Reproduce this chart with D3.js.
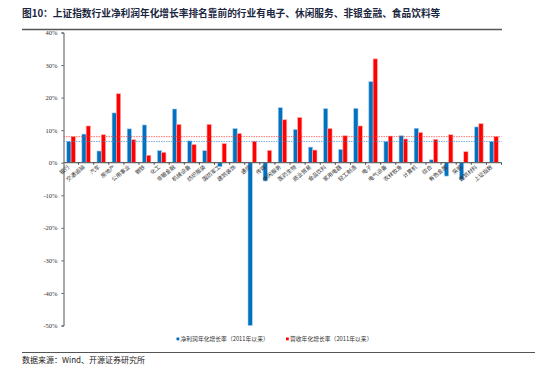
<!DOCTYPE html>
<html>
<head>
<meta charset="utf-8">
<script src="https://cdn.jsdelivr.net/npm/d3@7/dist/d3.min.js"></script>
<style>
  body { margin: 0; background: #fff; }
  svg { display: block; }
</style>
</head>
<body>
<script>
// industries, ranked as in the report
let categories = ["银行", "交通运输", "汽车", "房地产", "公用事业", "钢铁", "化工", "非银金融",
  "机械设备", "纺织服装", "国防军工", "建筑装饰", "通信", "传媒", "休闲服务", "医药生物",
  "商业贸易", "食品饮料", "家用电器", "轻工制造", "电子", "电气设备", "农林牧渔", "计算机",
  "综合", "有色金属", "采掘", "建筑材料", "上证指数"];

// 净利润年化增长率 (%)
let profitGrowth = [6.5, 8.8, 3.6, 15.3, 10.4, 11.6, 3.7, 16.5,
  6.7, 3.7, -1.2, 10.5, -50, -5.6, 16.9, 10.2,
  4.8, 16.6, 4.1, 16.7, 24.9, 6.5, 8.3, 10.6,
  0.9, -4.1, -5.2, 11.0, 6.5];

// 营收年化增长率 (%)
let revenueGrowth = [8.0, 11.3, 8.6, 21.2, 7.1, 2.3, 3.2, 11.8,
  5.6, 11.8, 5.9, 9.0, 6.6, 3.8, 13.2, 13.9,
  3.9, 10.5, 8.3, 11.3, 31.9, 8.2, 7.3, 9.3,
  7.2, 8.6, 3.4, 12.0, 8.0];

let yTicks = [40, 30, 20, 10, 0, -10, -20, -30, -40, -50];

let seriesNames = ["净利润年化增长率（2011年以来）", "营收年化增长率（2011年以来）"];
let seriesColors = ["#0070c0", "#ff0000"];
let glowColors = ["#a9cdea", "#ffb3b3"];

let svg = d3.select("body")
  .append("svg")
  .attr("width", 550)
  .attr("height", 375);

let cjk = "'Noto Sans CJK SC', 'Noto Sans', sans-serif";

// title
svg.append("text")
  .attr("x", 22)
  .attr("y", 17)
  .style("font-family", cjk)
  .style("font-size", "9.7px")
  .style("font-weight", "bold")
  .style("fill", "#1a2540")
  .text("图10：上证指数行业净利润年化增长率排名靠前的行业有电子、休闲服务、非银金融、食品饮料等");

svg.append("line")
  .attr("x1", 22).attr("x2", 502)
  .attr("y1", 29.5).attr("y2", 29.5)
  .style("stroke", "#555")
  .style("stroke-width", 1.5);

// scales
let x = d3.scaleBand()
  .domain(categories)
  .range([63.5, 501.5])
  .padding(0);

let xSub = d3.scaleBand()
  .domain([0, 1])
  .range([0, x.bandwidth()])
  .paddingInner(0)
  .paddingOuter(0.76);

let y = d3.scaleLinear()
  .domain([-50, 40])
  .range([325.5, 32.5]);

// y axis
let yAxis = svg.append("g")
  .attr("transform", "translate(63.5,0)")
  .call(d3.axisLeft(y).tickValues(yTicks).tickSize(2).tickPadding(4).tickFormat(d => d + "%"));
yAxis.select(".domain").style("stroke", "#555").style("stroke-width", 1);
yAxis.selectAll(".tick line").style("stroke", "#555");
yAxis.selectAll("text")
  .style("font-family", "'Liberation Serif', serif")
  .style("font-size", "6.5px")
  .style("fill", "#333");

// bars
let rows = categories.map((c, i) => ({ cat: c, vals: [profitGrowth[i], revenueGrowth[i]] }));

let groups = svg.append("g")
  .selectAll("g")
  .data(rows)
  .join("g")
  .attr("transform", d => `translate(${x(d.cat)},0)`);

groups.selectAll("rect")
  .data(d => d.vals.map((v, k) => ({ v, k })))
  .join("rect")
  .attr("x", d => xSub(d.k))
  .attr("width", xSub.bandwidth())
  .attr("y", d => y(Math.max(0, d.v)))
  .attr("height", d => Math.abs(y(d.v) - y(0)))
  .style("fill", d => seriesColors[d.k])
  .style("stroke", d => glowColors[d.k])
  .style("stroke-width", 0.6);

// reference lines at the index level
let refLines = [revenueGrowth[categories.length - 1], profitGrowth[categories.length - 1]];
svg.append("g")
  .selectAll("line")
  .data(refLines)
  .join("line")
  .attr("x1", 63.5).attr("x2", 501.5)
  .attr("y1", d => y(d)).attr("y2", d => y(d))
  .style("stroke", (d, i) => i === 0 ? "#ff3030" : "#3a8ad0")
  .style("stroke-width", 0.8)
  .style("stroke-dasharray", "1.5,1")
  .style("opacity", 0.85);

// x axis at zero
svg.append("line")
  .attr("x1", 63.5).attr("x2", 501.5)
  .attr("y1", y(0)).attr("y2", y(0))
  .style("stroke", "#666")
  .style("stroke-width", 1.3);

svg.append("g")
  .selectAll("line")
  .data(categories.slice(1).concat(["end"]))
  .join("line")
  .attr("x1", (d, i) => 63.5 + (i + 1) * x.step())
  .attr("x2", (d, i) => 63.5 + (i + 1) * x.step())
  .attr("y1", y(0)).attr("y2", y(0) + 2)
  .style("stroke", "#444")
  .style("stroke-width", 1);

// category labels
svg.append("g")
  .selectAll("text")
  .data(categories)
  .join("text")
  .attr("transform", d => `translate(${x(d) + x.bandwidth() / 2 - 1},${y(0) + 5}) rotate(-40)`)
  .attr("text-anchor", "end")
  .style("font-family", cjk)
  .style("font-size", "5.5px")
  .style("fill", "#333")
  .text(d => d);

// legend
let legend = svg.append("g")
  .selectAll("g")
  .data(seriesNames)
  .join("g")
  .attr("transform", (d, i) => `translate(${i === 0 ? 176.5 : 286}, 341)`);

legend.append("rect")
  .attr("x", 0).attr("y", -3.5)
  .attr("width", 2.8).attr("height", 2.8)
  .style("fill", (d, i) => seriesColors[i]);

legend.append("text")
  .attr("x", 4)
  .attr("y", 0)
  .style("font-family", cjk)
  .style("font-size", "5.8px")
  .style("fill", "#333")
  .text(d => d);

// source
svg.append("line")
  .attr("x1", 22).attr("x2", 535)
  .attr("y1", 352.5).attr("y2", 352.5)
  .style("stroke", "#555")
  .style("stroke-width", 1.2);

svg.append("text")
  .attr("x", 22)
  .attr("y", 363)
  .style("font-family", cjk)
  .style("font-size", "8px")
  .style("fill", "#222")
  .text("数据来源：Wind、开源证券研究所");
</script>
</body>
</html>
